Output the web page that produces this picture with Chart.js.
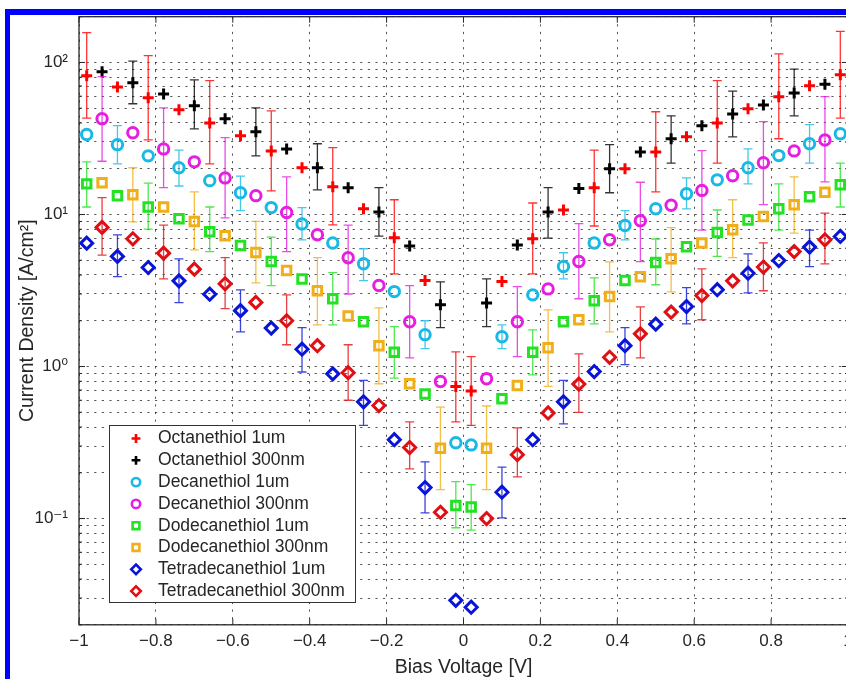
<!DOCTYPE html>
<html>
<head>
<meta charset="utf-8">
<script src="https://cdn.jsdelivr.net/npm/chart.js@4.4.1/dist/chart.umd.min.js"></script>
<style>
  html, body { margin: 0; padding: 0; background: #fff; overflow: hidden; }
  #wrap { position: relative; width: 846px; height: 679px; overflow: hidden; background: #fff; }
  #graph_iv { display: block; }
  #frame { position: absolute; left: 5px; top: 9px; width: 900px; height: 700px;
           border-left: 5px solid #0000ff; border-top: 6px solid #0000ff; pointer-events: none; }
</style>
</head>
<body>
<div id="wrap">
  <canvas id="graph_iv" width="860" height="679"></canvas>
  <div id="frame"></div>
</div>
<script>
/*------------------------------*/
/*            DATA              */
/*------------------------------*/
// 1um samples sit on grid A, 300nm samples on grid B (V)
var xGridA = [-0.98, -0.90, -0.82, -0.74, -0.66, -0.58, -0.50, -0.42, -0.34, -0.26, -0.18, -0.10, -0.02,
              0.02, 0.10, 0.18, 0.26, 0.34, 0.42, 0.50, 0.58, 0.66, 0.74, 0.82, 0.90, 0.98]
var xGridB = [-0.94, -0.86, -0.78, -0.70, -0.62, -0.54, -0.46, -0.38, -0.30, -0.22, -0.14, -0.06,
              0.06, 0.14, 0.22, 0.30, 0.38, 0.46, 0.54, 0.62, 0.70, 0.78, 0.86, 0.94]

var octane1um   = [81.7, 69, 58.6, 48.9, 40, 33, 26.2, 20.3, 15.2, 10.9, 7.03, 3.68, 0.74,
                   0.69, 3.62, 6.92, 10.7, 15.0, 20, 25.8, 32.4, 40, 49.6, 59.6, 70.3, 83]
var octane1umHi = [157, null, 111, null, 76, null, 48, null, 27.5, null, 12.5, null, 1.25,
                   1.16, null, 11.9, null, 26.5, null, 47.4, null, 75.9, null, 114, null, 160]
var octane1umLo = [43, null, 31, null, 21.5, null, 14.3, null, 8.55, null, 4.07, null, 0.433,
                   0.41, null, 4.07, null, 8.4, null, 14.1, null, 21.8, null, 31.5, null, 43]

var octane300   = [86.9, 73.5, 62, 51.9, 42.6, 35, 27, 20.3, 15.0, 10.4, 6.2, 2.55,
                   2.62, 6.3, 10.4, 14.8, 20, 25.8, 31.5, 38.4, 45.8, 52.6, 62.9, 72]
var octane300Hi = [null, 102, null, 76.8, null, 50.3, null, 29.2, null, 15, null, 3.6,
                   3.77, null, 15, null, 28.8, null, 44.5, null, 64.7, null, 90.5, null]
var octane300Lo = [null, 53.5, null, 36.6, null, 24.3, null, 14.5, null, 7.2, null, 1.8,
                   1.83, null, 7, null, 13.9, null, 21.8, null, 32.4, null, 44.5, null]

var decane1um   = [33.6, 28.8, 24.3, 20.3, 16.7, 13.9, 11.1, 8.67, 6.5, 4.74, 3.11, 1.62, 0.315,
                   0.305, 1.57, 2.96, 4.55, 6.5, 8.47, 10.9, 13.7, 16.9, 20.3, 24.4, 29.2, 34]
var decane1umHi = [null, 38.4, null, 26.5, null, 17.9, null, 11.1, null, 5.95, null, 2.0, null,
                   null, 1.88, null, 5.6, null, 10.6, null, 17.4, null, 27, null, 39, null]
var decane1umLo = [null, 21.5, null, 15.4, null, 10.6, null, 6.8, null, 3.67, null, 1.31, null,
                   null, 1.31, null, 3.77, null, 6.8, null, 10.9, null, 15.9, null, 21.8, null]

var decane300   = [42.6, 34.5, 27, 22.2, 17.4, 13.3, 10.3, 7.35, 5.19, 3.41, 1.97, 0.797,
                   0.83, 1.97, 3.24, 4.91, 6.82, 9.1, 11.5, 14.4, 18, 21.9, 26.2, 30.9]
var decane300Hi = [80.6, null, 50.3, null, 32, null, 17.7, null, 8.5, null, 3.4, null,
                   null, 3.35, null, 8.7, null, 16.3, null, 26.3, null, 40.8, null, 59.6]
var decane300Lo = [22.4, null, 15, null, 9.5, null, 5.7, null, 3.0, null, 1.14, null,
                   null, 1.16, null, 2.79, null, 4.9, null, 7.9, null, 11.6, null, 16.4]

var dodecane1um   = [15.9, 13.3, 11.2, 9.37, 7.7, 6.25, 4.91, 3.77, 2.79, 1.97, 1.24, 0.66, 0.122,
                     0.119, 0.613, 1.24, 1.97, 2.71, 3.68, 4.83, 6.13, 7.6, 9.2, 10.9, 13.1, 15.7]
var dodecane1umHi = [22.2, null, 16.1, null, 11.2, null, 7.1, null, 4.14, null, 1.83, null, 0.175,
                     0.167, null, 1.74, null, 3.83, null, 6.9, null, 10.7, null, 15.9, null, 21.8]
var dodecane1umLo = [11.2, null, 8.0, null, 5.7, null, 3.4, null, 1.88, null, 0.84, null, 0.087,
                     0.084, null, 0.88, null, 1.91, null, 3.45, null, 5.3, null, 7.9, null, 11.2]

var dodecane300   = [16.2, 13.5, 11.2, 9.0, 7.25, 5.63, 4.28, 3.15, 2.15, 1.37, 0.77, 0.29,
                     0.29, 0.75, 1.33, 2.03, 2.89, 3.89, 5.11, 6.5, 7.93, 9.7, 11.6, 14]
var dodecane300Hi = [null, 20.3, null, 14.1, null, 9.0, null, 5.2, null, 2.43, null, 0.54,
                     0.55, null, 2.36, null, 4.88, null, 8.2, null, 12.5, null, 17.7, null]
var dodecane300Lo = [null, 8.95, null, 5.85, null, 3.55, null, 1.88, null, 0.77, null, 0.155,
                     0.155, null, 0.74, null, 1.69, null, 3.1, null, 5.2, null, 7.55, null]

var tetradecane1um   = [6.48, 5.3, 4.48, 3.66, 2.99, 2.33, 1.79, 1.3, 0.895, 0.586, 0.33, 0.16, 0.029,
                        0.0261, 0.149, 0.33, 0.586, 0.927, 1.37, 1.9, 2.48, 3.2, 4.11, 4.98, 6.1, 7.17]
var tetradecane1umHi = [null, 7.35, null, 5.1, null, 3.19, null, 1.8, null, 0.81, null, 0.236, null,
                        null, 0.218, null, 0.81, null, 1.8, null, 3.3, null, 5.5, null, 7.9, null]
var tetradecane1umLo = [null, 3.9, null, 2.63, null, 1.69, null, 0.92, null, 0.41, null, 0.109, null,
                        null, 0.101, null, 0.42, null, 1.03, null, 1.91, null, 3.05, null, 4.54, null]

var tetradecane300   = [8.22, 6.92, 5.57, 4.37, 3.5, 2.64, 2.0, 1.37, 0.91, 0.554, 0.293, 0.11,
                        0.1, 0.263, 0.495, 0.766, 1.15, 1.64, 2.28, 2.93, 3.66, 4.51, 5.7, 6.82]
var tetradecane300Hi = [12.9, null, 8.5, null, 5.2, null, 2.96, null, 1.39, null, 0.433, null,
                        null, 0.395, null, 1.21, null, 2.47, null, 4.39, null, 6.5, null, 10.2]
var tetradecane300Lo = [5.4, null, 3.77, null, 2.4, null, 1.39, null, 0.6, null, 0.212, null,
                        null, 0.188, null, 0.5, null, 1.14, null, 2.03, null, 3.15, null, 4.74]

// axis ticks
var yDecades      = [0.1, 1, 10, 100]
var yDecadeLabels = ['10\u207B\u00B9', '10\u2070', '10\u00B9', '10\u00B2']
var yMin = 0.02, yMax = 200
var xMin = -1, xMax = 1, xStep = 0.2

var yTicks = []
;[0.01, 0.1, 1, 10, 100].forEach(function (d) {
  for (var m = 1; m <= 9; m++) {
    var v = +(d * m).toPrecision(3)
    if (v >= yMin && v <= yMax) yTicks.push(v)
  }
})

/*------------------------------*/
/*           SERIES             */
/*------------------------------*/
var series = [
  {label: 'Octanethiol 1um',        x: xGridA, y: octane1um,      hi: octane1umHi,      lo: octane1umLo,      color: 'rgb(255, 0, 0)',     style: 'cross',   r: 5.5},
  {label: 'Octanethiol 300nm',      x: xGridB, y: octane300,      hi: octane300Hi,      lo: octane300Lo,      color: 'rgb(0, 0, 0)',       style: 'cross',   r: 5.5},
  {label: 'Decanethiol 1um',        x: xGridA, y: decane1um,      hi: decane1umHi,      lo: decane1umLo,      color: 'rgb(25, 185, 230)',  style: 'circle',  r: 5.2},
  {label: 'Decanethiol 300nm',      x: xGridB, y: decane300,      hi: decane300Hi,      lo: decane300Lo,      color: 'rgb(230, 30, 225)',  style: 'circle',  r: 5.2},
  {label: 'Dodecanethiol 1um',      x: xGridA, y: dodecane1um,    hi: dodecane1umHi,    lo: dodecane1umLo,    color: 'rgb(35, 225, 35)',   style: 'rect',    r: 6.0},
  {label: 'Dodecanethiol 300nm',    x: xGridB, y: dodecane300,    hi: dodecane300Hi,    lo: dodecane300Lo,    color: 'rgb(240, 175, 25)',  style: 'rect',    r: 6.0},
  {label: 'Tetradecanethiol 1um',   x: xGridA, y: tetradecane1um, hi: tetradecane1umHi, lo: tetradecane1umLo, color: 'rgb(10, 20, 215)',   style: 'rectRot', r: 6.0},
  {label: 'Tetradecanethiol 300nm', x: xGridB, y: tetradecane300, hi: tetradecane300Hi, lo: tetradecane300Lo, color: 'rgb(225, 15, 20)',   style: 'rectRot', r: 6.0}
]

var FONT = '"Liberation Sans", Arial, "DejaVu Sans", sans-serif'
var TEXT = '#262626'
var GRID = 'rgba(30, 30, 30, 0.75)'
var DOTS = [2.2, 5.4]

/*------------------------------*/
/*           PLUGINS            */
/*------------------------------*/
var errorBars = {
  id: 'errorBars',
  beforeDatasetDraw: function (chart, args) {
    var s = series[args.index]
    var ctx = chart.ctx, xs = chart.scales.x, ys = chart.scales.y
    ctx.save()
    ctx.strokeStyle = s.color
    ctx.globalAlpha = 0.8
    ctx.lineWidth = 1.3
    ctx.beginPath()
    s.x.forEach(function (x, k) {
      if (s.hi[k] == null) return
      var px = xs.getPixelForValue(x)
      var top = ys.getPixelForValue(s.hi[k])
      var bot = ys.getPixelForValue(s.lo[k])
      ctx.moveTo(px, top); ctx.lineTo(px, bot)
      ctx.moveTo(px - 4.5, top); ctx.lineTo(px + 4.5, top)
      ctx.moveTo(px - 4.5, bot); ctx.lineTo(px + 4.5, bot)
    })
    ctx.stroke()
    ctx.restore()
  }
}

var boxAndLegend = {
  id: 'boxAndLegend',
  afterDraw: function (chart) {
    var ctx = chart.ctx, a = chart.chartArea, xs = chart.scales.x, ys = chart.scales.y
    ctx.save()
    // axes box
    ctx.strokeStyle = '#262626'
    ctx.lineWidth = 1.3
    ctx.strokeRect(a.left, a.top, a.right - a.left, a.bottom - a.top)
    // inward tick marks
    ctx.lineWidth = 1
    ctx.beginPath()
    xs.ticks.forEach(function (t) {
      var px = xs.getPixelForValue(t.value)
      ctx.moveTo(px, a.bottom); ctx.lineTo(px, a.bottom - 6)
      ctx.moveTo(px, a.top); ctx.lineTo(px, a.top + 6)
    })
    ys.ticks.forEach(function (t) {
      var py = ys.getPixelForValue(t.value)
      var len = yDecades.indexOf(t.value) >= 0 ? 6 : 3
      ctx.moveTo(a.left, py); ctx.lineTo(a.left + len, py)
      ctx.moveTo(a.right, py); ctx.lineTo(a.right - len, py)
    })
    ctx.stroke()

    // legend box
    var lx = 109.5, ly = 425.5, lw = 246, lh = 177
    ctx.fillStyle = '#fff'
    ctx.fillRect(lx, ly, lw, lh)
    ctx.strokeStyle = '#333'
    ctx.lineWidth = 1
    ctx.strokeRect(lx, ly, lw, lh)
    ctx.font = '17.5px ' + FONT
    ctx.textBaseline = 'middle'
    ctx.textAlign = 'left'
    series.forEach(function (s, i) {
      var yy = 438.5 + i * 21.8
      ctx.fillStyle = 'rgba(0,0,0,0)'
      ctx.strokeStyle = s.color
      ctx.lineWidth = 2.6
      Chart.helpers.drawPoint(ctx, {pointStyle: s.style, radius: s.r * 0.8, borderWidth: 2.6, rotation: 0}, 136, yy)
      ctx.fillStyle = TEXT
      ctx.fillText(s.label, 158, yy)
    })
    ctx.restore()
  }
}

/*------------------------------*/
/*            CHART             */
/*------------------------------*/
var ctx_iv = document.getElementById('graph_iv').getContext('2d')

var data_iv = {
  datasets: series.map(function (s, i) {
    return {
      label: s.label,
      data: s.x.map(function (x, k) { return {x: x, y: s.y[k]} }),
      pointStyle: s.style,
      pointRadius: s.r,
      pointBorderWidth: 3,
      borderColor: s.color,
      pointBorderColor: s.color,
      backgroundColor: 'rgba(0,0,0,0)',
      pointBackgroundColor: 'rgba(0,0,0,0)',
      showLine: false,
      order: series.length - 1 - i
    }
  })
}

var config_iv = {
  type: 'scatter',
  data: data_iv,
  options: {
    responsive: false,
    animation: false,
    events: [],
    layout: {padding: {top: 16.7, right: 12, bottom: 0, left: 0}},
    plugins: {
      legend: {display: false},
      tooltip: {enabled: false}
    },
    scales: {
      x: {
        type: 'linear',
        min: xMin,
        max: xMax,
        afterFit: function (s) { s.height = 54.2; s.paddingLeft = 0; s.paddingRight = 0 },
        ticks: {
          stepSize: xStep,
          padding: 6,
          color: TEXT,
          font: {family: FONT, size: 17},
          callback: function (v) {
            if (Math.abs(v) < 1e-9) return '0'
            var t = String(+v.toFixed(1))
            return t.replace('-', '\u2212')
          }
        },
        grid: {color: GRID, lineWidth: 1, drawTicks: false, borderDash: DOTS},
        border: {display: false, dash: DOTS},
        title: {
          display: true,
          text: 'Bias Voltage [V]',
          color: TEXT,
          font: {family: FONT, size: 19.5},
          padding: {top: 0, bottom: 0}
        }
      },
      y: {
        type: 'logarithmic',
        min: yMin,
        max: yMax,
        afterBuildTicks: function (s) { s.ticks = yTicks.map(function (v) { return {value: v} }) },
        afterFit: function (s) { s.width = 79; s.paddingTop = 0; s.paddingBottom = 0 },
        ticks: {
          autoSkip: false,
          padding: 11,
          color: TEXT,
          font: {family: FONT, size: 17},
          callback: function (v) {
            var k = yDecades.indexOf(v)
            return k >= 0 ? yDecadeLabels[k] : ''
          }
        },
        grid: {color: GRID, lineWidth: 1, drawTicks: false, borderDash: DOTS},
        border: {display: false, dash: DOTS},
        title: {
          display: true,
          text: 'Current Density [A/cm\u00B2]',
          color: TEXT,
          font: {family: FONT, size: 19.5},
          padding: {top: 15.5, bottom: 0}
        }
      }
    }
  },
  plugins: [errorBars, boxAndLegend]
}
var graph_iv = new Chart(ctx_iv, config_iv)
</script>
</body>
</html>
